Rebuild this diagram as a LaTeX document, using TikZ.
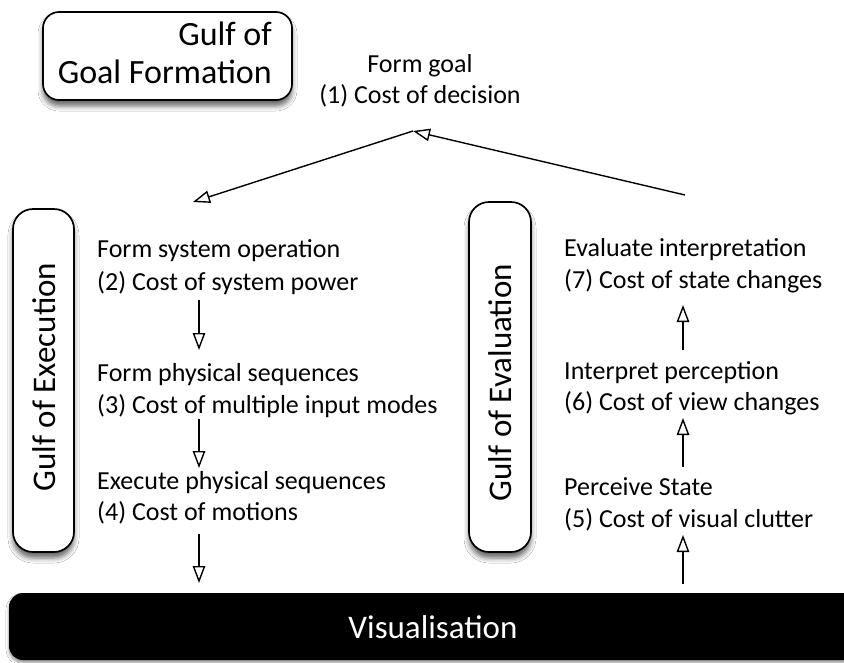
\documentclass[tikz,border=0pt]{standalone}
\usepackage{fontspec}
\setmainfont{Carlito}
\usetikzlibrary{arrows.meta,shadows.blur}
\begin{document}
\begin{tikzpicture}[x=1pt,y=-1pt,
  gulfbox/.style={draw=black, line width=1.7pt, fill=white, inner sep=0pt,
    blur shadow={shadow xshift=0pt, shadow yshift=-6pt, shadow blur radius=5pt, shadow opacity=60}},
  big/.style={font=\fontsize{33}{38}\selectfont, inner sep=0pt},
  lbl/.style={font=\fontsize{26}{32}\selectfont, inner sep=0pt, anchor=base west},
  flow/.style={line width=1.4pt, -{Triangle[open, length=17pt, width=12.5pt, line width=1.4pt]}}
]
\clip (0,0) rectangle (844,662);
\fill[white] (0,0) rectangle (844,662);

% gulf boxes
\node[gulfbox, rounded corners=16pt, minimum width=249pt, minimum height=88pt] (goal) at (167.5,56) {};
\node[big, font=\fontsize{34}{38}\selectfont, anchor=base east] (goalA) at (272,45) {Gulf of};
\node[big, font=\fontsize{34}{38}\selectfont, anchor=base east] (goalB) at (272,83) {Goal Formation};

\node[gulfbox, rounded corners=20pt, minimum width=61pt, minimum height=343pt] (exec) at (43.5,380.5) {};
\node[big, rotate=90] (execlbl) at (44,377) {Gulf of Execution};

\node[gulfbox, rounded corners=20pt, minimum width=62pt, minimum height=350pt] (eval) at (500,377) {};
\node[big, rotate=90] (evallbl) at (500,382.5) {Gulf of Evaluation};

% visualisation bar
\node[fill=black, rounded corners=14pt, minimum width=848pt, minimum height=67pt, inner sep=0pt,
  blur shadow={shadow xshift=0pt, shadow yshift=-3pt, shadow blur radius=3pt, shadow opacity=40}] (vis) at (433,626.5) {};
\node[big, text=white, anchor=base] (vislbl) at (433,638) {Visualisation};

% goal formation
\node[lbl, anchor=base] (fg1) at (420,72) {Form goal};
\node[lbl, anchor=base] (fg2) at (420,103) {(1) Cost of decision};

% execution stages
\node[lbl] (ex1a) at (97,257.7) {Form system operation};
\node[lbl] (ex1b) at (97,290) {(2) Cost of system power};
\node[lbl] (ex2a) at (97,381.7) {Form physical sequences};
\node[lbl] (ex2b) at (97,413) {(3) Cost of multiple input modes};
\node[lbl] (ex3a) at (97,489) {Execute physical sequences};
\node[lbl] (ex3b) at (97,520) {(4) Cost of motions};

% evaluation stages
\node[lbl] (ev3a) at (564,256.7) {Evaluate interpretation};
\node[lbl] (ev3b) at (564,288) {(7) Cost of state changes};
\node[lbl] (ev2a) at (564,379) {Interpret perception};
\node[lbl] (ev2b) at (564,410.7) {(6) Cost of view changes};
\node[lbl] (ev1a) at (564,495) {Perceive State};
\node[lbl] (ev1b) at (564,527) {(5) Cost of visual clutter};

% connector ends
\coordinate (gtip) at (413,131);
\coordinate (gout) at (413,131);
\coordinate (exin) at (193,202);
\coordinate (evout) at (685,195);
\coordinate (d1s) at (199,300); \coordinate (d1e) at (199,350);
\coordinate (d2s) at (199,419); \coordinate (d2e) at (199,468);
\coordinate (d3s) at (199,534); \coordinate (d3e) at (199,583);
\coordinate (u1s) at (683,584); \coordinate (u1e) at (683,535);
\coordinate (u2s) at (683,467); \coordinate (u2e) at (683,418);
\coordinate (u3s) at (683,350); \coordinate (u3e) at (683,305);

\draw[flow] (gout) -- (exin);
\draw[flow] (evout) -- (gtip);
\draw[flow] (d1s) -- (d1e);
\draw[flow] (d2s) -- (d2e);
\draw[flow] (d3s) -- (d3e);
\draw[flow] (u1s) -- (u1e);
\draw[flow] (u2s) -- (u2e);
\draw[flow] (u3s) -- (u3e);
\end{tikzpicture}
\end{document}
